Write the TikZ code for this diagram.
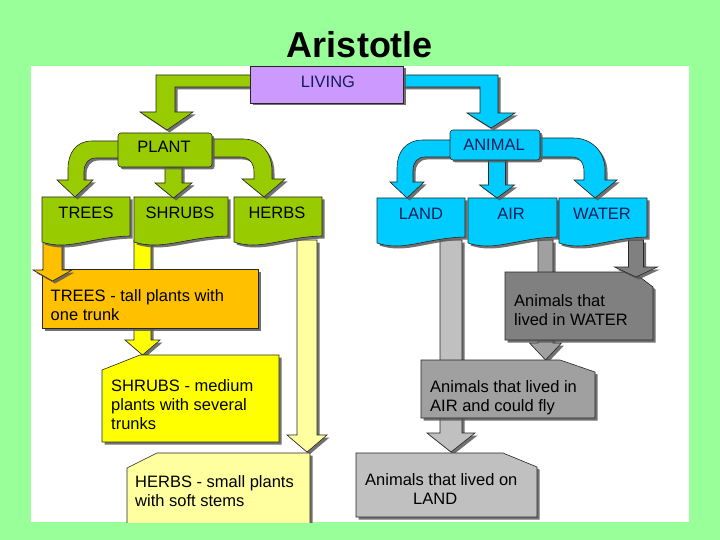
\documentclass[tikz,border=0pt]{standalone}
\usepackage{fontspec}
\setmainfont{Liberation Sans}
\usetikzlibrary{shadows}
\definecolor{bggreen}{RGB}{153,255,153}
\definecolor{living}{RGB}{204,153,255}
\definecolor{plantg}{RGB}{153,204,0}
\definecolor{animb}{RGB}{0,204,255}
\definecolor{treeso}{RGB}{255,192,0}
\definecolor{shrubsy}{RGB}{255,255,0}
\definecolor{herbsy}{RGB}{255,255,160}
\definecolor{landg}{RGB}{192,192,192}
\definecolor{airg}{RGB}{160,160,160}
\definecolor{waterg}{RGB}{128,128,128}
\definecolor{navy}{RGB}{20,30,90}
\newcommand\blockdown[7]{\path[#1] ({#2-#4},#3) -- ({#2-#4},#6) -- ({#2-#5},#6) -- (#2,#7) -- ({#2+#5},#6) -- ({#2+#4},#6) -- ({#2+#4},#3) -- cycle;}
\newcommand\docbox[4]{\path[#1] (#2,#4) -- (#3,#4) -- (#3,{#4+39}) .. controls ({#2+0.55*(#3-#2)},{#4+40}) and ({#2+0.3*(#3-#2)},{#4+54}) .. (#2,{#4+45}) -- cycle;}
\tikzset{
 outl/.style={draw=black!85,line width=0.6pt},
 shd/.style={drop shadow={shadow xshift=2.5pt,shadow yshift=-2.5pt,fill=black!65,opacity=0.85}},
 blk/.style={outl,shd,fill=#1},
 lbl/.style={font=\fontsize{16.5}{19}\selectfont,inner sep=0pt},
 desc/.style={lbl,align=left,anchor=north west},
}
\begin{document}
\begin{tikzpicture}[x=1pt,y=-1pt]
\useasboundingbox (0,0) rectangle (720,540);
\fill[bggreen] (0,0) rectangle (720,540);
\fill[white] (31,66) rectangle (689,522);
\node[font=\fontsize{36}{40}\selectfont\bfseries,inner sep=0pt] (title) at (360,45) {Aristotle};

% lower arrows behind description boxes
\blockdown{blk=shrubsy}{142.5}{240}{8.5}{17.5}{340}{355}
\blockdown{blk=herbsy}{307}{240}{10}{20}{435}{452}
\blockdown{blk=landg}{451}{240}{11}{24}{433}{452}
\blockdown{blk=airg}{545.5}{240}{7.5}{16}{343}{360}

% description boxes
\node[blk=treeso,minimum width=216pt,minimum height=59pt,inner sep=0pt] (treesbox) at (150,298.5) {};
\blockdown{blk=treeso}{52.5}{240}{9.5}{19.5}{270}{281}
\path[blk=waterg] (505,272) -- (633,272) -- (653,287) -- (653,340) -- (505,340) -- cycle;
\blockdown{blk=waterg}{636}{240}{7.5}{21.5}{267}{277}
\path[blk=airg] (421,360) -- (560,360) -- (595,372) -- (595,418) -- (421,418) -- cycle;
\path[blk=shrubsy] (102,370) -- (140,355) -- (279,355) -- (279,442) -- (102,442) -- cycle;
\begin{scope}
\clip (0,0) rectangle (720,522);
\path[blk=herbsy] (127,468) -- (157,453) -- (310,453) -- (310,530) -- (127,530) -- cycle;
\end{scope}
\path[blk=landg] (356,453) -- (503,453) -- (537,467) -- (537,517) -- (356,517) -- cycle;

% top row document boxes
\docbox{blk=plantg}{42}{130}{197}
\docbox{blk=plantg}{134}{228}{197}
\docbox{blk=plantg}{234}{322}{197}
\docbox{blk=animb}{377}{465}{198}
\docbox{blk=animb}{468}{557}{198}
\docbox{blk=animb}{559}{647}{198}

% arrows from PLANT
\path[blk=plantg] (120,141) -- (92,141) .. controls (76,141) and (68,153) .. (68,169) -- (68,180) -- (57,180) -- (75,197) -- (93,180) -- (84,180) -- (84,172) .. controls (84,164) and (88,158) .. (96,158) -- (120,158) -- cycle;
\path[blk=plantg] (210,139) -- (243,139) .. controls (262,139) and (272,154) .. (272,171) -- (272,179) -- (285,179) -- (264,197) -- (242,179) -- (254,179) -- (254,172) .. controls (254,163) and (249,157) .. (240,157) -- (210,157) -- cycle;
\blockdown{blk=plantg}{173.5}{165}{8.5}{18.5}{183}{198}
% arrows from ANIMAL
\path[blk=animb] (452,140) -- (423,140) .. controls (405,140) and (397,153) .. (397,168) -- (397,182) -- (390,182) -- (407,198) -- (424,182) -- (413,182) -- (413,170) .. controls (413,163) and (417,157) .. (425,157) -- (452,157) -- cycle;
\path[blk=animb] (538,138) -- (573,138) .. controls (592,138) and (605,152) .. (605,170) -- (605,180) -- (617,180) -- (595,198) -- (574,180) -- (584,180) -- (584,172) .. controls (584,163) and (580,157) .. (572,157) -- (538,157) -- cycle;
\blockdown{blk=animb}{497}{158}{8.5}{17.5}{185}{198}

\node[blk=plantg,rounded corners=3pt,minimum width=94pt,minimum height=34pt,inner sep=0pt] (plant) at (165,150) {};
\node[blk=animb,rounded corners=3pt,minimum width=90pt,minimum height=30pt,inner sep=0pt] (animal) at (495,145) {};

% arrows from LIVING
\path[blk=plantg] (252,75) -- (156,75) -- (156,112) -- (140,112) -- (167,130) -- (193,112) -- (175,112) -- (175,87) -- (252,87) -- cycle;
\path[blk=animb] (401,75) -- (498,75) -- (498,113) -- (515,113) -- (491,128) -- (467,113) -- (480,113) -- (480,87) -- (401,87) -- cycle;
\node[blk=living,minimum width=153pt,minimum height=37pt,inner sep=0pt] (living) at (326.5,84.5) {};

% labels
\node[lbl,text=navy] (tliving) at (328,82) {LIVING};
\node[lbl] (tplant) at (164,147) {PLANT};
\node[lbl,text=navy] (tanimal) at (494,145) {ANIMAL};
\node[lbl] (ttrees) at (86,213) {TREES};
\node[lbl] (tshrubs) at (180,213) {SHRUBS};
\node[lbl] (therbs) at (277,213) {HERBS};
\node[lbl,text=navy] (tland) at (421,214) {LAND};
\node[lbl,text=navy] (tair) at (511,214) {AIR};
\node[lbl,text=navy] (twater) at (602,214) {WATER};

\node[desc] (dtrees) at (50.5,289) {TREES - tall plants with\\one trunk};
\node[desc] (dshrubs) at (111,379) {SHRUBS - medium\\plants with several\\trunks};
\node[desc] (dherbs) at (135,475) {HERBS - small plants\\with soft stems};
\node[desc] (dwater) at (514,294) {Animals that\\lived in WATER};
\node[desc] (dair) at (430,380) {Animals that lived in\\AIR and could fly};
\node[desc] (dland) at (365,473) {Animals that lived on\\\hspace*{48pt}LAND};
\end{tikzpicture}
\end{document}
